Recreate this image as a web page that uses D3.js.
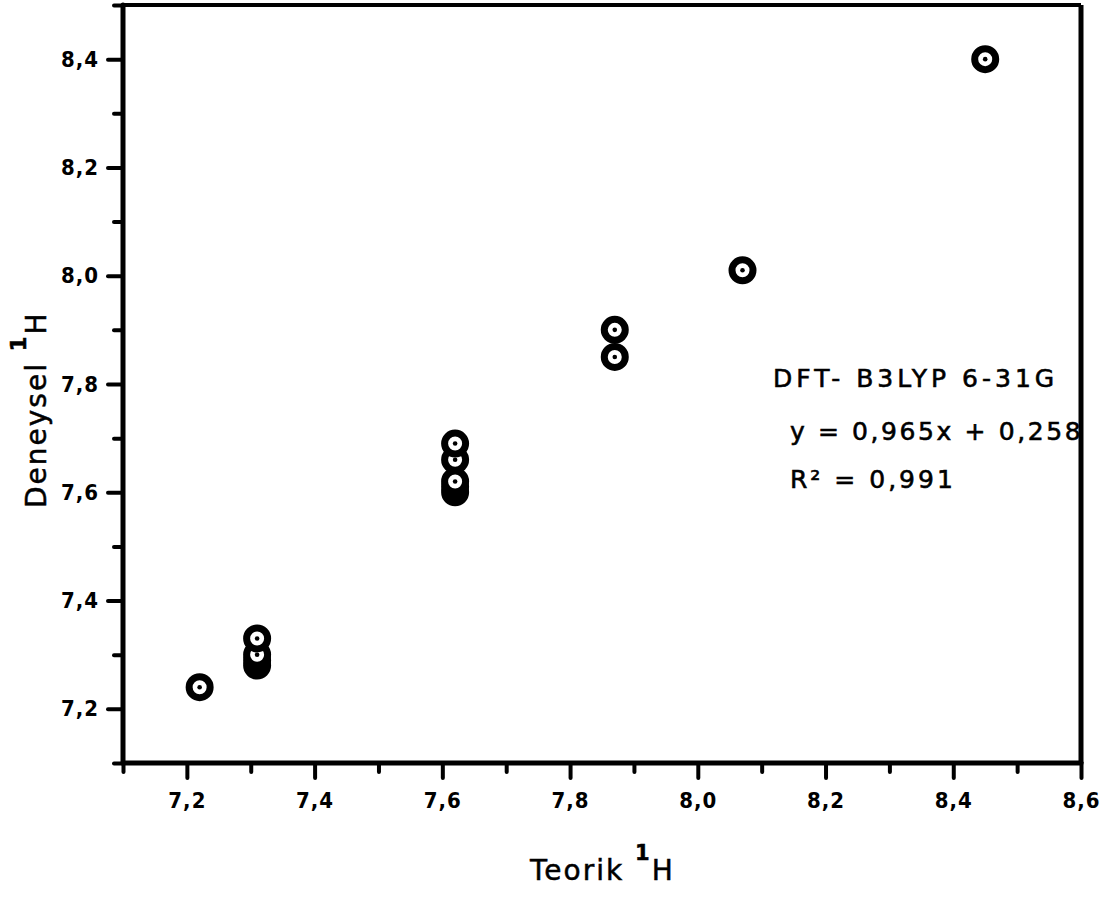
<!DOCTYPE html>
<html>
<head>
<meta charset="utf-8">
<script src="https://cdn.jsdelivr.net/npm/d3@7"></script>
<style>
  html, body { margin: 0; padding: 0; background: #fff; }
  svg { display: block; }
  text { font-family: "DejaVu Sans", sans-serif; fill: #000; }
</style>
</head>
<body>
<svg id="chart" width="1105" height="904"></svg>
<script>
// ---- Data ----
const teorik   = [7.22, 7.31, 7.31, 7.31, 7.31, 7.62, 7.62, 7.62, 7.62, 7.62, 7.87, 7.87, 8.07, 8.45];
const deneysel = [7.24, 7.28, 7.29, 7.30, 7.33, 7.60, 7.61, 7.62, 7.66, 7.69, 7.85, 7.90, 8.01, 8.40];
const xMajorTicks = [7.2, 7.4, 7.6, 7.8, 8.0, 8.2, 8.4, 8.6];
const xMinorTicks = [7.1, 7.3, 7.5, 7.7, 7.9, 8.1, 8.3, 8.5];
const yMajorTicks = [7.2, 7.4, 7.6, 7.8, 8.0, 8.2, 8.4];
const yMinorTicks = [7.1, 7.3, 7.5, 7.7, 7.9, 8.1, 8.3, 8.5];
const xDomain = [7.1, 8.6];
const yDomain = [7.1, 8.5];
const annotationLines = ["DFT- B3LYP 6-31G", "y = 0,965x + 0,258", "R² = 0,991"];

// ---- Layout ----
const L = 123, R = 1081, T = 5, B = 763;
const svg = d3.select("#chart");
const x = d3.scaleLinear().domain(xDomain).range([L, R]);
const y = d3.scaleLinear().domain(yDomain).range([B, T]);
const fmt = d => d3.format(".1f")(d).replace(".", ",");

function styleAxis(g, width) {
  g.select(".domain").remove();
  g.selectAll(".tick line").attr("stroke", "#000").attr("stroke-width", width).attr("stroke-linecap", "round");
}
const labelFont = "'DejaVu Sans Condensed', 'DejaVu Sans', sans-serif";

// annotation (drawn under the frame)
const ann = svg.append("g").attr("font-size", 25).attr("stroke", "#000").attr("stroke-width", 0.6);
ann.append("text").attr("x", 773).attr("y", 387).style("letter-spacing", "4px").text(annotationLines[0]);
ann.append("text").attr("x", 790).attr("y", 440).style("letter-spacing", "2.6px").text(annotationLines[1]);
ann.append("text").attr("x", 790).attr("y", 488).style("letter-spacing", "3px").text(annotationLines[2]);

// frame (top and right)
svg.append("line").attr("x1", L).attr("x2", R).attr("y1", T).attr("y2", T)
  .attr("stroke", "#000").attr("stroke-width", 4);
svg.append("line").attr("x1", R).attr("x2", R).attr("y1", T).attr("y2", B)
  .attr("stroke", "#000").attr("stroke-width", 5);

// x axis
const gxMin = svg.append("g").attr("transform", `translate(0,${B})`)
  .call(d3.axisBottom(x).tickValues(xMinorTicks).tickSize(9).tickFormat(""));
styleAxis(gxMin, 4);
const gx = svg.append("g").attr("transform", `translate(0,${B})`)
  .call(d3.axisBottom(x).tickValues(xMajorTicks).tickSize(15).tickPadding(14).tickFormat(fmt));
styleAxis(gx, 4);
gx.selectAll(".tick text").attr("font-size", 22).attr("font-weight", "bold")
  .style("font-family", labelFont).style("letter-spacing", "1px");

// y axis
const gyMin = svg.append("g").attr("transform", `translate(${L},0)`)
  .call(d3.axisLeft(y).tickValues(yMinorTicks).tickSize(9).tickFormat(""));
styleAxis(gyMin, 4);
const gy = svg.append("g").attr("transform", `translate(${L},0)`)
  .call(d3.axisLeft(y).tickValues(yMajorTicks).tickSize(15).tickPadding(9).tickFormat(fmt));
styleAxis(gy, 4);
gy.selectAll(".tick text").attr("font-size", 22).attr("font-weight", "bold")
  .style("font-family", labelFont).style("letter-spacing", "1px");

// axis lines
svg.append("line").attr("x1", L).attr("x2", R).attr("y1", B).attr("y2", B)
  .attr("stroke", "#000").attr("stroke-width", 5).attr("stroke-linecap", "round");
svg.append("line").attr("x1", L).attr("x2", L).attr("y1", T).attr("y2", B)
  .attr("stroke", "#000").attr("stroke-width", 5).attr("stroke-linecap", "round");

// points
const pts = teorik.map((t, i) => ({ x: t, y: deneysel[i] }));
const gp = svg.append("g");
const mk = gp.selectAll("g.pt").data(pts).join("g").attr("class", "pt")
  .attr("transform", d => `translate(${x(d.x)},${y(d.y)})`);
mk.append("circle").attr("r", 10.5).attr("fill", "#fff").attr("stroke", "#000").attr("stroke-width", 7);
mk.append("circle").attr("r", 2.3).attr("fill", "#000");

// axis titles
const xt = svg.append("text").attr("x", 530).attr("y", 880).attr("font-size", 28)
  .attr("stroke", "#000").attr("stroke-width", 0.5).style("letter-spacing", "2px");
xt.append("tspan").text("Teorik ");
xt.append("tspan").attr("dy", -20).attr("font-size", 21).attr("font-weight", "bold").text("1");
xt.append("tspan").attr("dy", 20).text("H");

const yt = svg.append("text").attr("transform", "translate(46,508) rotate(-90)").attr("font-size", 28)
  .attr("stroke", "#000").attr("stroke-width", 0.5).style("letter-spacing", "2px");
yt.append("tspan").text("Deneysel ");
yt.append("tspan").attr("dy", -20).attr("font-size", 21).attr("font-weight", "bold").text("1");
yt.append("tspan").attr("dy", 20).text("H");
</script>
</body>
</html>
